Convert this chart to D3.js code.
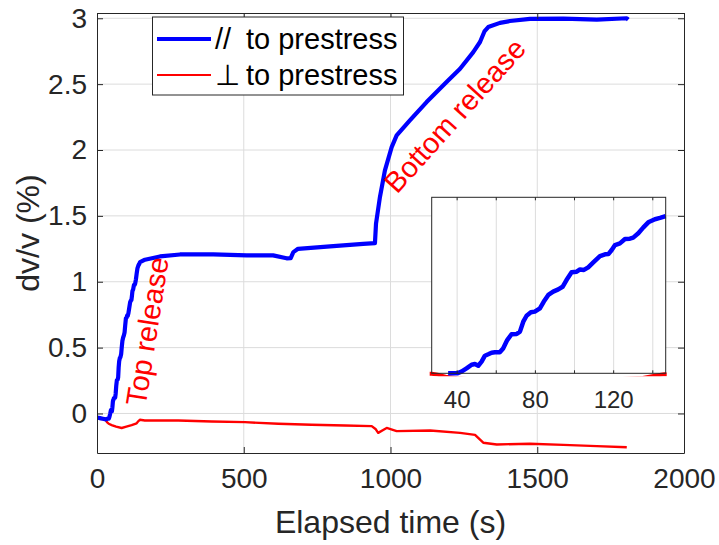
<!DOCTYPE html>
<html>
<head>
<meta charset="utf-8">
<script src="https://cdn.jsdelivr.net/npm/d3@7"></script>
<style>
  html, body { margin: 0; padding: 0; background: #fff; }
  svg { display: block; font-family: "Liberation Sans", Arial, sans-serif; }
</style>
</head>
<body>
<svg id="chart" width="719" height="545"></svg>
<script>
// ---------- DATA ----------
const xTicks = [0, 500, 1000, 1500, 2000];
const xTickLabels = ["0", "500", "1000", "1500", "2000"];
const yTicks = [0, 0.5, 1, 1.5, 2, 2.5, 3];
const yTickLabels = ["0", "0.5", "1", "1.5", "2", "2.5", "3"];
const insetGridTicks = [40, 60, 80, 100, 120, 140];
const insetLabelTicks = [40, 80, 120];
const seriesNames = ["//  to prestress", "\u22A5 to prestress"];

// parallel to prestress: [time (s), dv/v (%)]
const bluePar = [
  [0,-0.03],[10,-0.035],[20,-0.04],[30,-0.045],[35.4,-0.04],[40,-0.04],
  [42.2,-0.027],[44.8,-0.003],[47.4,0.025],[49.1,0.030],[50.8,0.017],[52.5,0.048],
  [54.2,0.093],[55.9,0.104],[57.6,0.116],[59.3,0.119],[61.8,0.119],[63.5,0.148],
  [65.6,0.211],[67.8,0.255],[70.4,0.257],[72.1,0.275],[73.8,0.350],[75.5,0.395],
  [77.7,0.421],[79.7,0.426],[82.3,0.451],[84.3,0.502],[86.6,0.552],[89.1,0.577],
  [91.7,0.594],[93.9,0.614],[95.9,0.665],[98.5,0.723],[101.1,0.728],[102.8,0.745],
  [104.8,0.741],[107.0,0.761],[109.6,0.798],[113.0,0.846],[115.6,0.859],[117.3,0.861],
  [119.0,0.892],[120.7,0.929],[123.2,0.942],[125.8,0.975],[128.3,0.977],[130.0,0.985],
  [132.6,1.018],[135.2,1.063],[137.7,1.101],[141.1,1.124],[143.7,1.134],[146.6,1.148],
  [163.5,1.167],[214.6,1.192],[282.8,1.207],[396,1.207],[510,1.2],[600,1.2],
  [646,1.178],[660,1.18],[669,1.225],[685,1.25],[794,1.268],[907,1.288],[947,1.293],
  [950.6,1.44],[964,1.643],[981,1.845],[1004,2.022],[1021,2.111],[1066,2.225],
  [1123,2.364],[1191,2.516],[1237,2.617],[1282,2.743],[1305,2.82],[1320,2.9],
  [1333,2.933],[1373,2.965],[1407,2.979],[1475,2.995],[1589,2.997],[1703,2.99],
  [1805,3.0],[1810,2.99]
];

// perpendicular to prestress: [time (s), dv/v (%)]
const redPerp = [
  [0,-0.035],[10,-0.04],[27,-0.044],[30,-0.05],[34,-0.065],[40,-0.078],[50,-0.088],
  [65,-0.1],[84,-0.11],[100,-0.1],[118,-0.088],[135,-0.075],[141,-0.058],[146,-0.048],
  [163,-0.053],[277,-0.053],[391,-0.061],[504,-0.066],[618,-0.078],[731,-0.086],
  [845,-0.091],[936,-0.096],[950,-0.12],[958,-0.147],[975,-0.125],[987,-0.11],
  [1021,-0.134],[1135,-0.129],[1237,-0.147],[1288,-0.162],[1316,-0.222],[1362,-0.235],
  [1475,-0.23],[1589,-0.238],[1703,-0.248],[1805,-0.256]
];

const annotations = [
  { text: "Top release", t: 165, v: 0.05, angle: -81 },
  { text: "Bottom release", t: 1022, v: 1.66, angle: -48 }
];

// ---------- LAYOUT ----------
const svg = d3.select("#chart");
const L = 97, R = 684, T = 13, B = 453;
const axisColor = "#262626", gridColor = "#dcdcdc";
const blue = "#0000ff", red = "#ff0000";
const tickFont = 28;

const x = d3.scaleLinear().domain([0, 2000]).range([L, R]);
const y = d3.scaleLinear().domain([-0.3, 3.04]).range([B, T]);

// grid
const grid = svg.append("g");
grid.selectAll(".gx").data(xTicks.slice(1, -1)).enter().append("line")
  .attr("x1", d => x(d)).attr("x2", d => x(d)).attr("y1", T).attr("y2", B)
  .attr("stroke", gridColor).attr("stroke-width", 1);
grid.selectAll(".gy").data(yTicks).enter().append("line")
  .attr("y1", d => y(d)).attr("y2", d => y(d)).attr("x1", L).attr("x2", R)
  .attr("stroke", gridColor).attr("stroke-width", 1);

// clip
svg.append("clipPath").attr("id", "mainClip").append("rect")
  .attr("x", L).attr("y", T - 2).attr("width", R - L).attr("height", B - T + 4);

const line = d3.line().x(d => x(d[0])).y(d => y(d[1]));
const plot = svg.append("g").attr("clip-path", "url(#mainClip)");
plot.append("path").datum(redPerp).attr("d", line)
  .attr("fill", "none").attr("stroke", red).attr("stroke-width", 2.4)
  .attr("stroke-linejoin", "round");
plot.append("path").datum(bluePar).attr("d", line)
  .attr("fill", "none").attr("stroke", blue).attr("stroke-width", 4.2)
  .attr("stroke-linejoin", "round");

// axes
function styleAxis(g) {
  g.select(".domain").attr("stroke", axisColor);
  g.selectAll(".tick line").attr("stroke", axisColor);
  g.selectAll(".tick text").attr("fill", axisColor).attr("font-size", tickFont)
    .attr("font-family", "Liberation Sans, Arial, sans-serif");
}
const gxB = svg.append("g").attr("transform", `translate(0,${B})`)
  .call(d3.axisBottom(x).tickValues(xTicks).tickSize(-6).tickSizeOuter(0).tickPadding(15)
    .tickFormat((d, i) => xTickLabels[i]));
styleAxis(gxB);
const gxT = svg.append("g").attr("transform", `translate(0,${T})`)
  .call(d3.axisTop(x).tickValues(xTicks).tickSize(-6).tickSizeOuter(0).tickFormat(""));
styleAxis(gxT);
const gyL = svg.append("g").attr("transform", `translate(${L},0)`)
  .call(d3.axisLeft(y).tickValues(yTicks).tickSize(-6).tickSizeOuter(0).tickPadding(10)
    .tickFormat((d, i) => yTickLabels[i]));
styleAxis(gyL);
const gyR = svg.append("g").attr("transform", `translate(${R},0)`)
  .call(d3.axisRight(y).tickValues(yTicks).tickSize(-6).tickSizeOuter(0).tickFormat(""));
styleAxis(gyR);

// axis labels
svg.append("text").attr("x", (L + R) / 2).attr("y", 533)
  .attr("text-anchor", "middle").attr("font-size", 32).attr("fill", axisColor)
  .text("Elapsed time (s)");
svg.append("text").attr("transform", `translate(39,${(T + B) / 2}) rotate(-90)`)
  .attr("text-anchor", "middle").attr("font-size", 32).attr("fill", axisColor)
  .text("dv/v (%)");

// annotations
annotations.forEach(a => {
  svg.append("text")
    .attr("transform", `translate(${x(a.t)},${y(a.v)}) rotate(${a.angle})`)
    .attr("font-size", 29).attr("fill", red).text(a.text);
});

// ---------- INSET ----------
const IL = 431.7, IR = 665.7, IT = 197.3, IB = 373.3;
const xi = d3.scaleLinear().domain([27, 146.6]).range([IL, IR]);
const yi = d3.scaleLinear().domain([-0.04, 1.29]).range([IB, IT]);
const inset = svg.append("g");
inset.append("rect").attr("x", IL).attr("y", IT).attr("width", IR - IL).attr("height", IB - IT)
  .attr("fill", "#fff");
inset.selectAll(".ig").data(insetGridTicks).enter().append("line")
  .attr("x1", d => xi(d)).attr("x2", d => xi(d)).attr("y1", IT).attr("y2", IB)
  .attr("stroke", gridColor).attr("stroke-width", 1);
svg.append("clipPath").attr("id", "insetClip").append("rect")
  .attr("x", IL - 2).attr("y", IT - 3).attr("width", IR - IL + 3).attr("height", IB - IT + 6);
const lineI = d3.line().x(d => xi(d[0])).y(d => yi(d[1]));
const inPlot = inset.append("g").attr("clip-path", "url(#insetClip)");
inPlot.append("path").datum(redPerp.filter(d => d[0] <= 170)).attr("d", lineI)
  .attr("fill", "none").attr("stroke", red).attr("stroke-width", 4)
  .attr("stroke-linecap", "round");
inPlot.append("path").datum(bluePar.filter(d => d[0] >= 34 && d[0] <= 150)).attr("d", lineI)
  .attr("fill", "none").attr("stroke", blue).attr("stroke-width", 4.5)
  .attr("stroke-linejoin", "round");
inset.append("rect").attr("x", IL).attr("y", IT).attr("width", IR - IL).attr("height", IB - IT)
  .attr("fill", "none").attr("stroke", axisColor).attr("stroke-width", 1);
inset.selectAll(".itb").data(insetGridTicks).enter().append("line")
  .attr("x1", d => xi(d)).attr("x2", d => xi(d)).attr("y1", IB).attr("y2", IB - 3)
  .attr("stroke", axisColor);
inset.selectAll(".itt").data(insetGridTicks).enter().append("line")
  .attr("x1", d => xi(d)).attr("x2", d => xi(d)).attr("y1", IT).attr("y2", IT + 3)
  .attr("stroke", axisColor);
inset.selectAll(".itl").data(insetLabelTicks).enter().append("text")
  .attr("x", d => xi(d)).attr("y", 408).attr("text-anchor", "middle")
  .attr("font-size", 24).attr("fill", axisColor).text(d => d);

// ---------- LEGEND ----------
const leg = svg.append("g");
leg.append("rect").attr("x", 152.5).attr("y", 17).attr("width", 251).attr("height", 78)
  .attr("fill", "#fff").attr("stroke", axisColor).attr("stroke-width", 1);
const legRows = [
  { name: seriesNames[0], color: blue, w: 4, y: 39 },
  { name: seriesNames[1], color: red, w: 2, y: 75 }
];
legRows.forEach(r => {
  leg.append("line").attr("x1", 157).attr("x2", 211).attr("y1", r.y).attr("y2", r.y)
    .attr("stroke", r.color).attr("stroke-width", r.w);
  const parts = r.name.split(" to ");
  leg.append("text").attr("x", 215).attr("y", r.y + 10).attr("font-size", 29)
    .attr("fill", "#000").text(parts[0].trim());
  leg.append("text").attr("x", 246).attr("y", r.y + 10).attr("font-size", 29)
    .attr("fill", "#000").text("to " + parts[1]);
});
</script>
</body>
</html>
